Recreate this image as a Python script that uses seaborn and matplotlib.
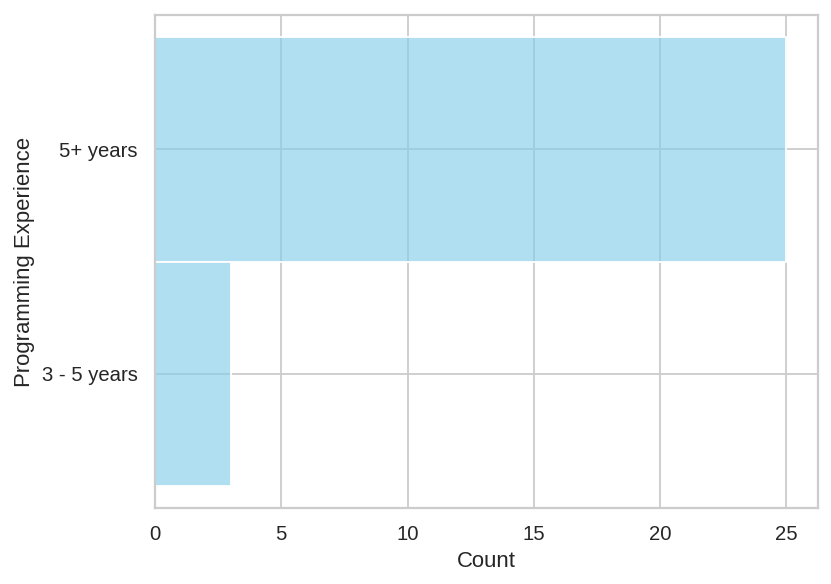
import pandas as pd
import matplotlib.pyplot as plt
import seaborn as sns

# data
experience = ['5+ years', '3 - 5 years']
counts = [25, 3]

rows = []
for label, n in zip(experience, counts):
    rows += [label] * n
df = pd.DataFrame({'Programming Experience': rows})
df['Programming Experience'] = pd.Categorical(df['Programming Experience'], categories=experience)

sns.set_theme(style='whitegrid', font_scale=1.02)
plt.rcParams['font.family'] = ['Liberation Sans', 'DejaVu Sans']

dpi = 130
fig, ax = plt.subplots(figsize=(831 / dpi, 584 / dpi), dpi=dpi)
fig.subplots_adjust(left=155 / 831, right=818 / 831, top=1 - 15 / 584, bottom=1 - 508 / 584)

sns.histplot(data=df, y='Programming Experience', color='skyblue', alpha=0.65, ax=ax)

ax.set_xlabel('Count')
ax.set_ylabel('Programming Experience')

fig.savefig('out.png', dpi=dpi)
